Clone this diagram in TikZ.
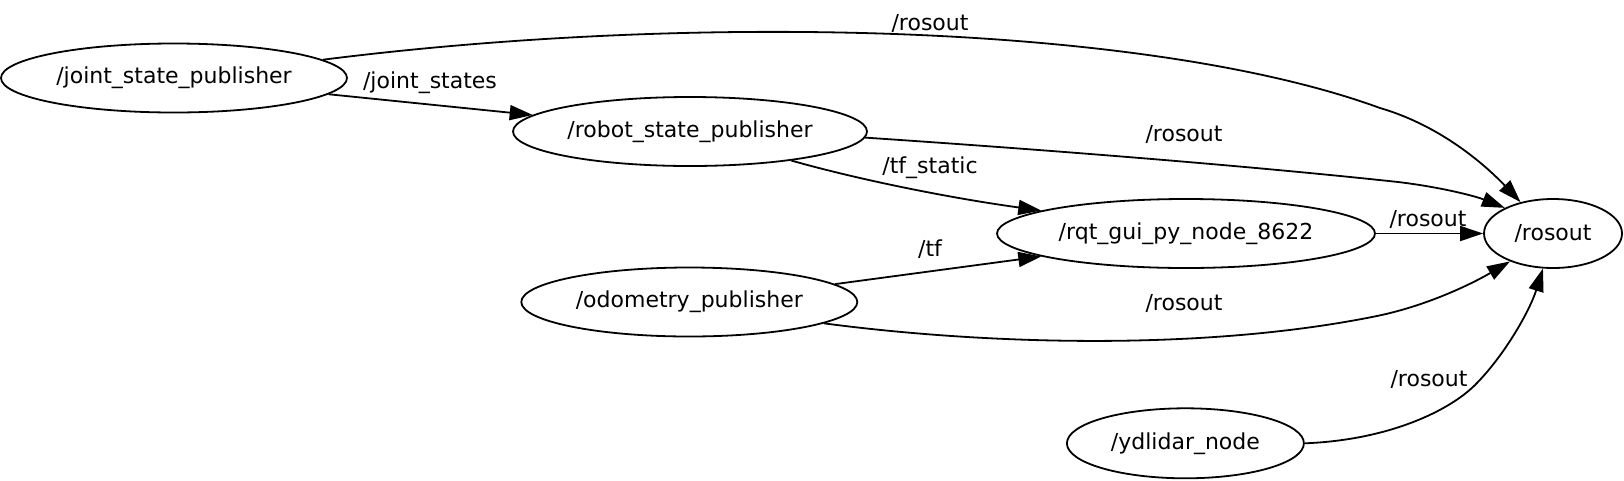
\documentclass[tikz,border=0pt]{standalone}
\usepackage{fontspec}
\setmainfont{DejaVu Sans}
\usetikzlibrary{shapes.geometric,arrows.meta}
\begin{document}
\begin{tikzpicture}[x=1pt,y=-1pt,
  every node/.style={font=\fontsize{22}{26}\selectfont},
  rosnode/.style={ellipse,draw,line width=1.8pt,inner sep=0pt},
  topic/.style={inner sep=0pt},
  link/.style={line width=1.8pt,-{Triangle[length=23pt,width=15pt]}}]
\useasboundingbox (0,0) rectangle (1624,480);
% nodes
\node[rosnode,minimum width=346pt,minimum height=69pt] (jsp) at (174,78) {/joint\_state\_publisher};
\node[rosnode,minimum width=354pt,minimum height=69pt] (rsp) at (690,131.5) {/robot\_state\_publisher};
\node[rosnode,minimum width=378pt,minimum height=69pt] (rqt) at (1186,233.5) {/rqt\_gui\_py\_node\_8622};
\node[rosnode,minimum width=336pt,minimum height=69pt] (odo) at (689.3,302) {/odometry\_publisher};
\node[rosnode,minimum width=138pt,minimum height=69pt] (ros) at (1553,233.5) {/rosout};
\node[rosnode,minimum width=237pt,minimum height=70pt] (ydl) at (1185.4,443.3) {/ydlidar\_node};
% edges
\draw[link] (jsp.7.5) .. controls (700,12) and (1150,24) .. (1380,108)
  .. controls (1445,127) and (1490,170) .. (ros.136.3);
\draw[link] (jsp.-6) -- (rsp.174.4);
\draw[link] (rsp.-2.5) .. controls (1050,150) and (1250,166) .. (1398,182)
  .. controls (1440,187) and (1475,196) .. (ros.152.5);
\draw[link] (rsp.-16.2) .. controls (860,180) and (950,198) .. (rqt.171.8);
\draw[link] (odo.7.5) -- (rqt.-171.7);
\draw[link] (rqt.east) -- (ros.west);
\draw[link] (odo.-9.5) .. controls (980,344) and (1200,352) .. (1377,316)
  .. controls (1430,305) and (1475,282) .. (ros.-147.4);
\draw[link] (ydl.east) .. controls (1390,440) and (1450,410) .. (1475,385)
  .. controls (1505,355) and (1530,310) .. (ros.-106);
% topic labels
\node[topic] (l1) at (930,23) {/rosout};
\node[topic] (l2) at (430,83) {/joint\_states};
\node[topic] (l3) at (1184,134) {/rosout};
\node[topic] (l4) at (930,168) {/tf\_static};
\node[topic] (l5) at (930,249) {/tf};
\node[topic] (l6) at (1428,219) {/rosout};
\node[topic] (l7) at (1184,303) {/rosout};
\node[topic] (l8) at (1429,379) {/rosout};
\end{tikzpicture}
\end{document}
